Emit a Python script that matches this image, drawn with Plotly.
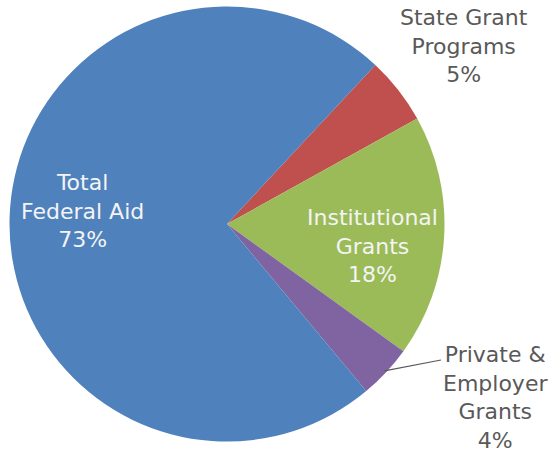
import math
import plotly.graph_objects as go

# Share of grant aid by source (percent), listed clockwise from the State slice
labels = ["State Grant Programs", "Institutional Grants", "Private & Employer Grants", "Total Federal Aid"]
values = [5, 18, 4, 73]
colors = ["#C0504D", "#9BBB59", "#8064A2", "#4F81BD"]
label_text = ["State Grant<br>Programs<br>5%", "Institutional<br>Grants<br>18%",
              "Private &<br>Employer<br>Grants<br>4%", "Total<br>Federal Aid<br>73%"]

W, H = 550, 454
ROTATION = 43  # start of the first slice, degrees clockwise from 12 o'clock

# pie placement in pixels
cx, cy, r = 227, 224, 217.5
dom_x = [(cx - r) / W, (cx + r) / W]
dom_y = [(H - (cy + r)) / H, (H - (cy - r)) / H]

fig = go.Figure(go.Pie(
    labels=labels,
    values=values,
    sort=False,
    direction="clockwise",
    rotation=ROTATION,
    marker=dict(colors=colors, line=dict(width=0)),
    textinfo="none",
    hoverinfo="label+percent",
    showlegend=False,
    domain=dict(x=dom_x, y=dom_y),
))

FONT = "DejaVu Sans"
light = "#F4F4F4"
dark = "#595959"

# label placement (pixels) and colour per slice
label_pos = [(464, 46, dark), (372, 246, light), (495, 397, dark), (82, 211, light)]
for txt, (px, py, col) in zip(label_text, label_pos):
    fig.add_annotation(
        x=px / W, y=1 - py / H, xref="paper", yref="paper",
        text=txt, showarrow=False, align="center",
        xanchor="center", yanchor="middle",
        font=dict(family=FONT, size=22, color=col),
    )

# leader line from the Private & Employer slice out to its label
total = sum(values)
start_frac = sum(values[:2]) / total
mid_angle = math.radians(ROTATION + (start_frac + values[2] / total / 2) * 360)
x0 = cx + 0.99 * r * math.sin(mid_angle)
y0 = cy - 0.99 * r * math.cos(mid_angle)
fig.add_shape(
    type="line", xref="paper", yref="paper",
    x0=x0 / W, y0=1 - y0 / H, x1=441 / W, y1=1 - 360 / H,
    line=dict(color="#595959", width=1.2),
)

fig.update_layout(
    width=W, height=H,
    margin=dict(l=0, r=0, t=0, b=0),
    paper_bgcolor="white",
    plot_bgcolor="white",
)

fig.write_html("out.html")
